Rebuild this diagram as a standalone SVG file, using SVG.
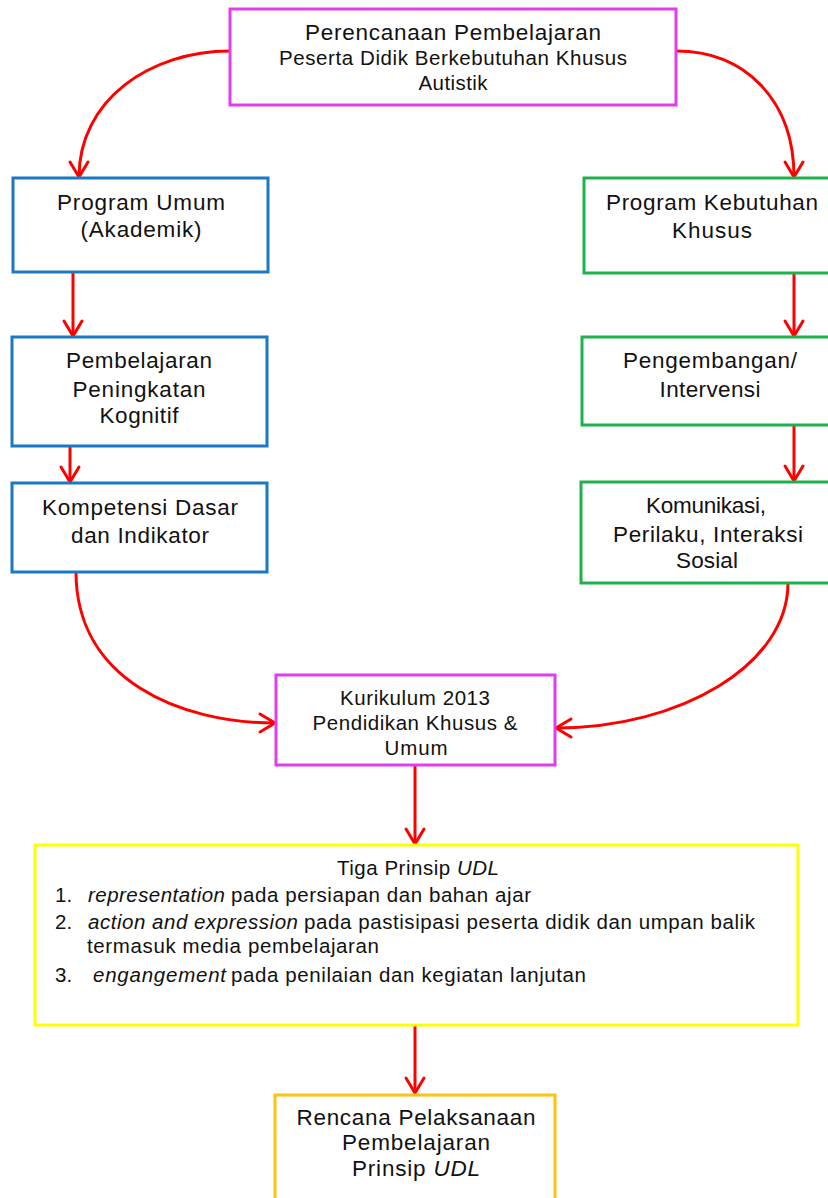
<svg xmlns="http://www.w3.org/2000/svg" width="828" height="1198" viewBox="0 0 828 1198">
<style>
.box{fill:#FFFFFF;stroke-width:3}
.mag{stroke:#E03CF0}
.blue{stroke:#1B78C4}
.green{stroke:#1DB24B}
.yel{stroke:#FFFF00}
.gold{stroke:#FFC20E}
text{font-family:"Liberation Sans",Arial,Helvetica,sans-serif;fill:#111111}
.c{text-anchor:middle}
.f21{font-size:22.5px}
.f19{font-size:20.5px}
.it{font-style:italic}
.con{fill:none;stroke:#FF0000;stroke-width:3;marker-end:url(#ah)}
</style>
<defs>
<marker id="ah" viewBox="-18 -12 21 24" refX="0" refY="0" markerWidth="21" markerHeight="24" markerUnits="userSpaceOnUse" orient="auto">
<path d="M-15,-9 L0,0 L-15,9" fill="none" stroke="#FF0000" stroke-width="3" stroke-linecap="round" stroke-linejoin="round"/>
</marker>
</defs>
<rect width="828" height="1198" fill="#FFFFFF"/>

<g id="connectors">
<path class="con" d="M230,51 C150,51 79,100 79,177"/>
<path class="con" d="M676,51 C745,51 794,100 794,177"/>
<path class="con" d="M73,272 L73,336"/>
<path class="con" d="M70,446 L70,482"/>
<path class="con" d="M794,273 L794,336"/>
<path class="con" d="M794,425 L794,481"/>
<path class="con" d="M76,572 C76,680 180,723 275,723"/>
<path class="con" d="M788,583 C788,665 680,728 556,728"/>
<path class="con" d="M415,765 L415,844"/>
<path class="con" d="M415,1025 L415,1093"/>
</g>

<g id="n-perencanaan">
<rect class="box mag" x="230" y="9" width="446" height="96"/>
<text class="c f21" x="453" y="40" textLength="296" lengthAdjust="spacing">Perencanaan Pembelajaran</text>
<text class="c f19" x="453" y="65" textLength="348" lengthAdjust="spacing">Peserta Didik Berkebutuhan Khusus</text>
<text class="c f19" x="453" y="90" textLength="69" lengthAdjust="spacing">Autistik</text>
</g>

<g id="n-program-umum">
<rect class="box blue" x="13" y="178" width="255" height="94"/>
<text class="c f21" x="141" y="210" textLength="168" lengthAdjust="spacing">Program Umum</text>
<text class="c f21" x="141" y="237" textLength="121" lengthAdjust="spacing">(Akademik)</text>
</g>

<g id="n-pembelajaran">
<rect class="box blue" x="12" y="337" width="255" height="109"/>
<text class="c f21" x="139" y="368" textLength="146" lengthAdjust="spacing">Pembelajaran</text>
<text class="c f21" x="139" y="397" textLength="133" lengthAdjust="spacing">Peningkatan</text>
<text class="c f21" x="139" y="423" textLength="79" lengthAdjust="spacing">Kognitif</text>
</g>

<g id="n-kompetensi">
<rect class="box blue" x="12" y="483" width="255" height="89"/>
<text class="c f21" x="140" y="515" textLength="196" lengthAdjust="spacing">Kompetensi Dasar</text>
<text class="c f21" x="140" y="543" textLength="138" lengthAdjust="spacing">dan Indikator</text>
</g>

<g id="n-program-kebutuhan">
<rect class="box green" x="584" y="178" width="260" height="95"/>
<text class="c f21" x="712" y="210" textLength="212" lengthAdjust="spacing">Program Kebutuhan</text>
<text class="c f21" x="712" y="238" textLength="80" lengthAdjust="spacing">Khusus</text>
</g>

<g id="n-pengembangan">
<rect class="box green" x="582" y="337" width="262" height="88"/>
<text class="c f21" x="710" y="368" textLength="174" lengthAdjust="spacing">Pengembangan/</text>
<text class="c f21" x="710" y="397" textLength="101" lengthAdjust="spacing">Intervensi</text>
</g>

<g id="n-komunikasi">
<rect class="box green" x="581" y="482" width="263" height="101"/>
<text class="c f21" x="706" y="513" textLength="120" lengthAdjust="spacing">Komunikasi,</text>
<text class="c f21" x="708" y="542" textLength="190" lengthAdjust="spacing">Perilaku, Interaksi</text>
<text class="c f21" x="707" y="568" textLength="62" lengthAdjust="spacing">Sosial</text>
</g>

<g id="n-kurikulum">
<rect class="box mag" x="276" y="675" width="279" height="90"/>
<text class="c f19" x="415" y="705" textLength="150" lengthAdjust="spacing">Kurikulum 2013</text>
<text class="c f19" x="415" y="730" textLength="205" lengthAdjust="spacing">Pendidikan Khusus &amp;</text>
<text class="c f19" x="416" y="755" textLength="63" lengthAdjust="spacing">Umum</text>
</g>

<g id="n-udl">
<rect class="box yel" x="35" y="845" width="763" height="180"/>
<text class="f19" x="337" y="875" textLength="162" lengthAdjust="spacing">Tiga Prinsip <tspan class="it">UDL</tspan></text>
<text class="f19" x="55" y="902">1.</text>
<text class="f19 it" x="88" y="902" textLength="137" lengthAdjust="spacing">representation</text>
<text class="f19" x="231" y="902" textLength="300" lengthAdjust="spacing">pada persiapan dan bahan ajar</text>
<text class="f19" x="55" y="929">2.</text>
<text class="f19 it" x="88" y="929" textLength="210" lengthAdjust="spacing">action and expression</text>
<text class="f19" x="304" y="929" textLength="451" lengthAdjust="spacing">pada pastisipasi peserta didik dan umpan balik</text>
<text class="f19" x="87" y="953" textLength="292" lengthAdjust="spacing">termasuk media pembelajaran</text>
<text class="f19" x="55" y="982">3.</text>
<text class="f19 it" x="93" y="982" textLength="133" lengthAdjust="spacing">engangement</text>
<text class="f19" x="231" y="982" textLength="355" lengthAdjust="spacing">pada penilaian dan kegiatan lanjutan</text>
</g>

<g id="n-rencana">
<rect class="box gold" x="275" y="1095" width="280" height="120"/>
<text class="c f21" x="416" y="1125" textLength="239" lengthAdjust="spacing">Rencana Pelaksanaan</text>
<text class="c f21" x="416" y="1150" textLength="148" lengthAdjust="spacing">Pembelajaran</text>
<text class="c f21" x="416" y="1176" textLength="128" lengthAdjust="spacing">Prinsip <tspan class="it">UDL</tspan></text>
</g>
</svg>
